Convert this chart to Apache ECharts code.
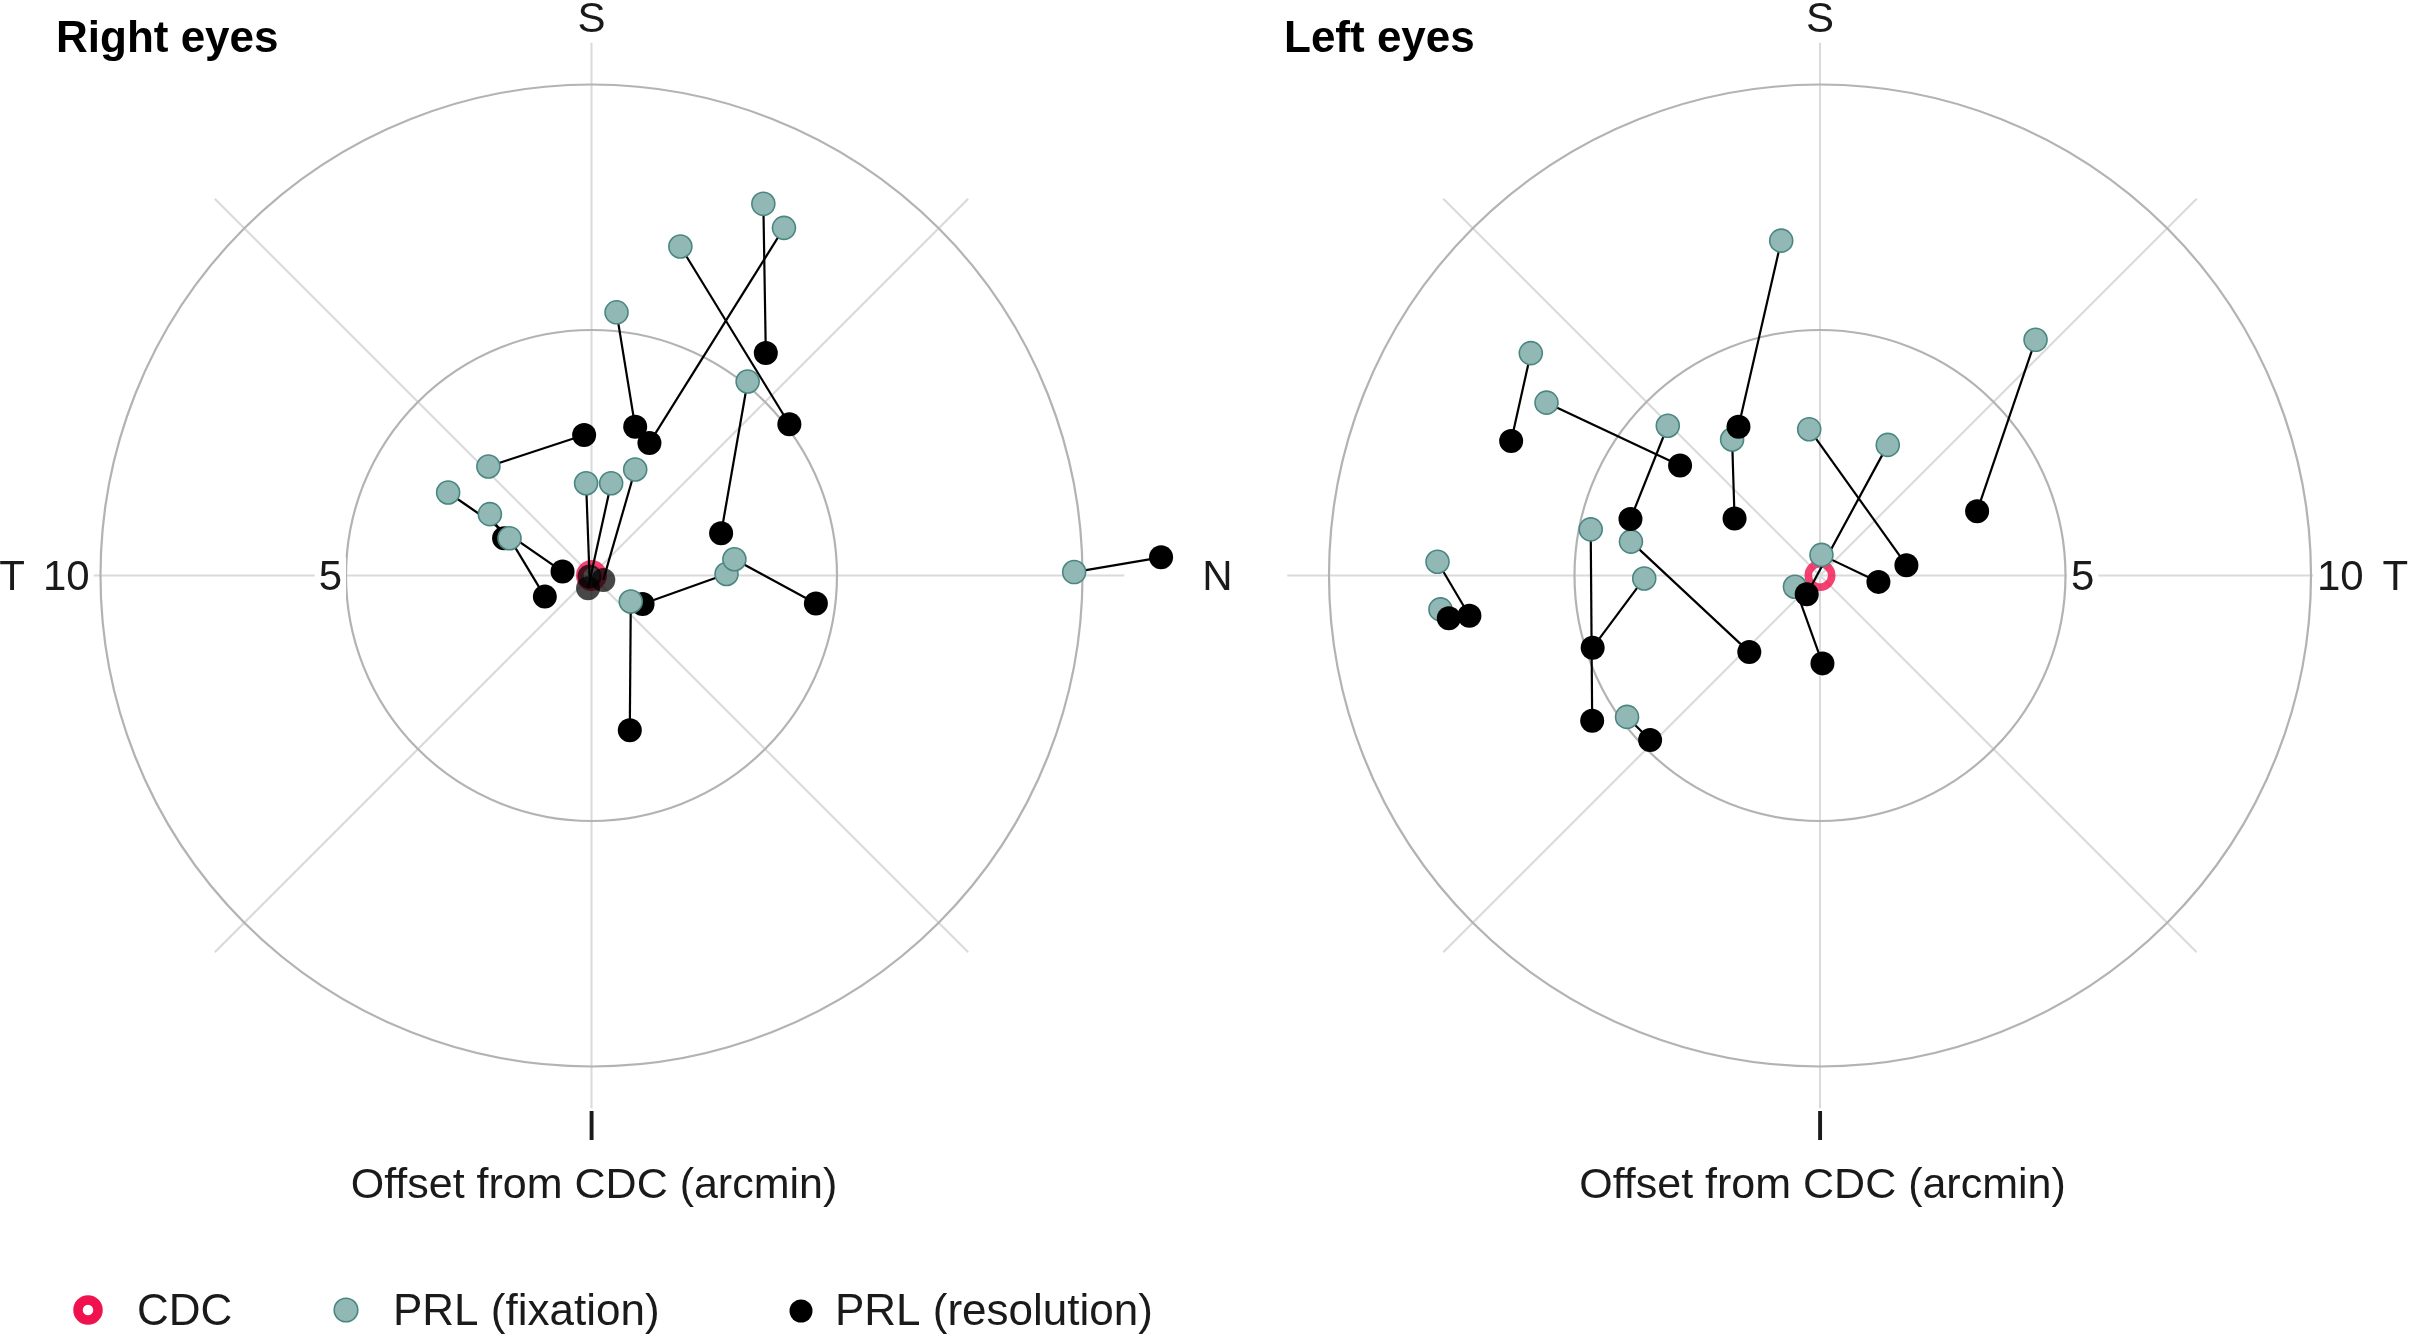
<!DOCTYPE html>
<html>
<head>
<meta charset="utf-8">
<script src="https://cdn.jsdelivr.net/npm/echarts@6/dist/echarts.min.js"></script>
<style>
html,body{margin:0;padding:0;background:#ffffff;}
#chart{width:2413px;height:1336px;}
</style>
</head>
<body>
<div id="chart"></div>
<script>
// ---------------- DATA (arcmin offsets from CDC; x = horizontal, y = vertical) ----------------
const panelTitles = ['Right eyes', 'Left eyes'];
const axisTitle = 'Offset from CDC (arcmin)';
const ringRadii = [5, 10];
const radialTickLabels = ['5', '10'];
const spokeAngles = [0, 45, 90, 135, 180, 225, 270, 315];
const legendLabels = ['CDC', 'PRL (fixation)', 'PRL (resolution)'];

const cdcPoint = [[0, 0]];

// Right eyes
const rightFixation = [
  [3.50, 7.57], [3.92, 7.08], [1.81, 6.70], [0.51, 5.36], [3.18, 3.95],
  [-2.10, 2.22], [-2.92, 1.69], [-2.07, 1.25], [-1.67, 0.76], [-0.11, 1.88],
  [0.40, 1.88], [0.89, 2.16], [0.80, -0.53], [2.75, 0.03], [2.91, 0.33],
  [9.83, 0.07]
];
const rightResolution = [
  [3.55, 4.53], [1.18, 2.70], [4.03, 3.08], [0.89, 3.03], [2.64, 0.86],
  [-0.15, 2.86], [-0.59, 0.08], [-1.78, 0.76], [-0.95, -0.43], [-0.04, -0.02],
  [-0.07, -0.26], [0.24, -0.09], [0.78, -3.15], [1.04, -0.58], [4.57, -0.57],
  [11.60, 0.37]
];
const rightFaintIdx = [9, 10, 11];

// Left eyes
const leftFixation = [
  [-5.89, 4.53], [-5.57, 3.52], [-3.10, 3.05], [-1.79, 2.77], [-0.79, 6.82],
  [4.39, 4.80], [-0.22, 2.98], [1.38, 2.66], [0.03, 0.42], [-0.51, -0.23],
  [-4.67, 0.94], [-3.85, 0.69], [-3.58, -0.06], [-7.79, 0.28], [-7.73, -0.69],
  [-3.93, -2.88]
];
const leftResolution = [
  [-6.29, 2.74], [-2.85, 2.24], [-3.86, 1.15], [-1.74, 1.16], [-1.66, 3.03],
  [3.20, 1.31], [1.76, 0.21], [-0.27, -0.38], [1.19, -0.13], [0.05, -1.79],
  [-4.64, -2.96], [-1.44, -1.56], [-4.63, -1.47], [-7.14, -0.82], [-7.56, -0.87],
  [-3.46, -3.35]
];

// ---------------- STYLE ----------------
const FONT = '"Liberation Sans", Arial, Helvetica, sans-serif';
const FIX_FILL = '#92b8b5';
const FIX_STROKE = '#4a8782';
const CDC_RED = '#f0124e';
const RING_COLOR = '#b3b3b3';
const SPOKE_COLOR = '#dadada';
const TEXT_COLOR = '#1a1a1a';
const SPOKE_LEN = 10.85;

const chart = echarts.init(document.getElementById('chart'), null, {renderer: 'canvas'});

const UNIT = 49.1;
const CY = 575.5;
const centersX = [591.5, 1820];
const xRanges = [[-12, 13], [-13, 12]];
const yRange = [-11.5, 11.5];

const grids = [], xAxes = [], yAxes = [];
for (let i = 0; i < 2; i++) {
  const xr = xRanges[i];
  grids.push({
    left: centersX[i] + xr[0] * UNIT,
    top: CY - yRange[1] * UNIT,
    width: (xr[1] - xr[0]) * UNIT,
    height: (yRange[1] - yRange[0]) * UNIT,
    containLabel: false
  });
  xAxes.push({type: 'value', gridIndex: i, min: xr[0], max: xr[1], show: false});
  yAxes.push({type: 'value', gridIndex: i, min: yRange[0], max: yRange[1], show: false});
}

function ringSeries(i) {
  return {
    type: 'custom', xAxisIndex: i, yAxisIndex: i, silent: true, z: 1,
    data: ringRadii.map(r => [r, 0]),
    renderItem: (params, api) => {
      const c = api.coord([0, 0]);
      const r = api.size([api.value(0), 0])[0];
      return {type: 'circle', shape: {cx: c[0], cy: c[1], r: r},
        style: {fill: 'none', stroke: RING_COLOR, lineWidth: 2.2}};
    }
  };
}

function spokeSeries(i) {
  return {
    type: 'custom', xAxisIndex: i, yAxisIndex: i, silent: true, z: 0,
    data: spokeAngles.map(a => [SPOKE_LEN * Math.cos(a * Math.PI / 180), SPOKE_LEN * Math.sin(a * Math.PI / 180)]),
    renderItem: (params, api) => {
      const c = api.coord([0, 0]);
      const e = api.coord([api.value(0), api.value(1)]);
      return {type: 'line', shape: {x1: c[0], y1: c[1], x2: e[0], y2: e[1]},
        style: {stroke: SPOKE_COLOR, lineWidth: 2}};
    }
  };
}

// labels: [text, x, y, align, whiteBackground]
function labelSeries(i, labels) {
  return {
    type: 'custom', xAxisIndex: i, yAxisIndex: i, silent: true, z: 5,
    data: labels.map(l => [l[1], l[2]]),
    renderItem: (params, api) => {
      const l = labels[params.dataIndex];
      const p = api.coord([api.value(0), api.value(1)]);
      return {type: 'text', x: p[0], y: p[1] + 3,
        style: {text: l[0], fill: TEXT_COLOR, font: '42px ' + FONT,
          align: l[3], verticalAlign: 'middle',
          backgroundColor: l[4] ? '#ffffff' : 'transparent', padding: [0, 4, 0, 4]}};
    }
  };
}

function segmentSeries(i, fix, res) {
  return {
    type: 'custom', xAxisIndex: i, yAxisIndex: i, silent: true, z: 3,
    encode: {x: [0, 2], y: [1, 3]},
    data: fix.map((f, k) => [f[0], f[1], res[k][0], res[k][1]]),
    renderItem: (params, api) => {
      const a = api.coord([api.value(0), api.value(1)]);
      const b = api.coord([api.value(2), api.value(3)]);
      return {type: 'line', shape: {x1: a[0], y1: a[1], x2: b[0], y2: b[1]},
        style: {stroke: '#000000', lineWidth: 2.2}};
    }
  };
}

function cdcSeries(i) {
  return {
    type: 'scatter', name: 'CDC', xAxisIndex: i, yAxisIndex: i, silent: true, z: 2,
    data: cdcPoint, symbol: 'circle', symbolSize: 23.4,
    itemStyle: {color: 'rgba(0,0,0,0)', borderColor: CDC_RED, borderWidth: 7.6}
  };
}

function fixSeries(i, data, z) {
  return {
    type: 'scatter', name: 'PRL (fixation)', xAxisIndex: i, yAxisIndex: i, silent: true, z: z,
    data: data, symbol: 'circle', symbolSize: 23,
    itemStyle: {color: FIX_FILL, borderColor: FIX_STROKE, borderWidth: 1.6, opacity: 1}
  };
}

function resSeries(i, data, z, faint) {
  return {
    type: 'scatter', name: 'PRL (resolution)', xAxisIndex: i, yAxisIndex: i, silent: true, z: z,
    data: data.map((p, k) => faint.indexOf(k) >= 0 ? {value: p, itemStyle: {opacity: 0.72}} : p),
    symbol: 'circle', symbolSize: 24,
    itemStyle: {color: '#000000', opacity: 1}
  };
}

const rightLabels = [
  ['S', 0, 11.36, 'center', false],
  ['I', 0, -11.21, 'center', false],
  ['N', 12.75, 0, 'center', false],
  ['T', -11.8, 0, 'center', false],
  [radialTickLabels[0], -5.0, 0, 'right', true],
  [radialTickLabels[1], -10.14, 0, 'right', true]
];
const leftLabels = [
  ['S', 0, 11.36, 'center', false],
  ['I', 0, -11.21, 'center', false],
  ['T', 11.72, 0, 'center', false],
  [radialTickLabels[0], 5.03, 0, 'left', true],
  [radialTickLabels[1], 10.04, 0, 'left', true]
];

const series = [
  spokeSeries(0), ringSeries(0), cdcSeries(0),
  segmentSeries(0, rightFixation, rightResolution),
  resSeries(0, rightResolution, 4, rightFaintIdx),
  fixSeries(0, rightFixation, 5),
  labelSeries(0, rightLabels),
  spokeSeries(1), ringSeries(1), cdcSeries(1),
  segmentSeries(1, leftFixation, leftResolution),
  fixSeries(1, leftFixation, 4),
  resSeries(1, leftResolution, 5, []),
  labelSeries(1, leftLabels)
];

const LEG_Y = 1313;
const graphic = [
  {type: 'text', left: 56, top: 18, style: {text: panelTitles[0], font: 'bold 44px ' + FONT, fill: '#000000'}},
  {type: 'text', left: 1284, top: 18, style: {text: panelTitles[1], font: 'bold 44px ' + FONT, fill: '#000000'}},
  {type: 'text', x: centersX[0] + 2.5, y: 1186, style: {text: axisTitle, font: '43px ' + FONT, fill: TEXT_COLOR, align: 'center', verticalAlign: 'middle'}},
  {type: 'text', x: centersX[1] + 2.5, y: 1186, style: {text: axisTitle, font: '43px ' + FONT, fill: TEXT_COLOR, align: 'center', verticalAlign: 'middle'}},
  // legend
  {type: 'circle', shape: {cx: 88, cy: LEG_Y - 3, r: 10}, style: {fill: 'none', stroke: CDC_RED, lineWidth: 9.5}},
  {type: 'text', x: 137, y: LEG_Y, style: {text: legendLabels[0], font: '44px ' + FONT, fill: TEXT_COLOR, align: 'left', verticalAlign: 'middle'}},
  {type: 'circle', shape: {cx: 346, cy: LEG_Y - 3, r: 11.8}, style: {fill: FIX_FILL, stroke: FIX_STROKE, lineWidth: 1.6}},
  {type: 'text', x: 393, y: LEG_Y, style: {text: legendLabels[1], font: '44px ' + FONT, fill: TEXT_COLOR, align: 'left', verticalAlign: 'middle'}},
  {type: 'circle', shape: {cx: 801, cy: LEG_Y - 2, r: 11.5}, style: {fill: '#000000'}},
  {type: 'text', x: 835, y: LEG_Y, style: {text: legendLabels[2], font: '44px ' + FONT, fill: TEXT_COLOR, align: 'left', verticalAlign: 'middle'}}
];

chart.setOption({
  backgroundColor: '#ffffff',
  animation: false,
  grid: grids,
  xAxis: xAxes,
  yAxis: yAxes,
  series: series,
  graphic: graphic
});
</script>
</body>
</html>
